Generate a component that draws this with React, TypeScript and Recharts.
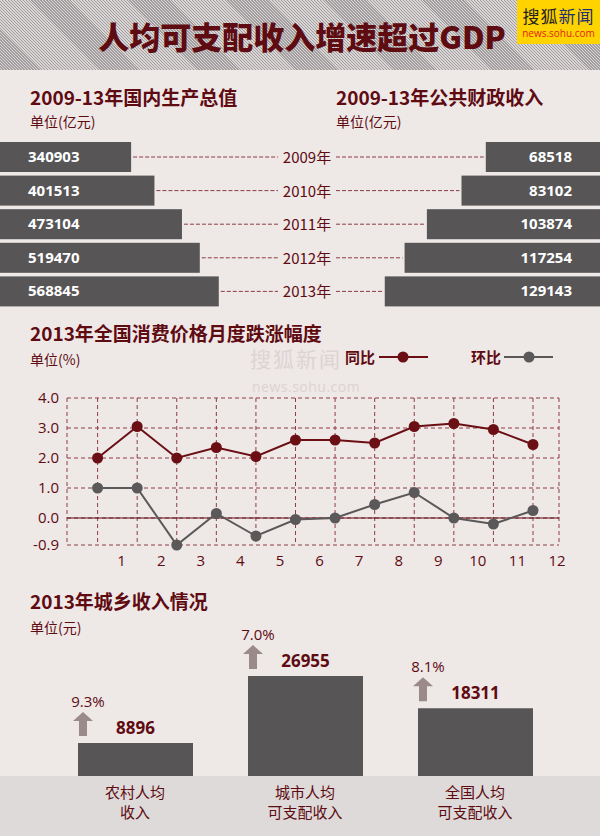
import React from 'react';
import { BarChart, Bar, XAxis, YAxis, LabelList, LineChart, Line, CartesianGrid, ReferenceLine } from 'recharts';

const years = ['2009年', '2010年', '2011年', '2012年', '2013年'];
const gdpValues = [340903, 401513, 473104, 519470, 568845];
const fiscalValues = [68518, 83102, 103874, 117254, 129143];

const months = [1, 2, 3, 4, 5, 6, 7, 8, 9, 10, 11, 12];
const yoyValues = [2.0, 3.05, 2.0, 2.35, 2.05, 2.6, 2.6, 2.5, 3.05, 3.15, 2.95, 2.45];
const momValues = [1.0, 1.0, -0.9, 0.15, -0.6, -0.05, 0.0, 0.45, 0.85, 0.0, -0.2, 0.25];
const cpiTicks = [-0.9, 0, 1, 2, 3, 4];

const incomeLine1 = ['农村人均', '城市人均', '全国人均'];
const incomeLine2 = ['收入', '可支配收入', '可支配收入'];
const incomeValues = [8896, 26955, 18311];
const incomeGrowth = ['9.3%', '7.0%', '8.1%'];

const MAROON = '#5e0b12';
const DASH = '#8e3d45';
const BAR = '#575556';
const BG = '#eee8e7';
const CJK = '"Noto Sans CJK SC", "Noto Sans", sans-serif';
const NUM = '"Open Sans", "Noto Sans", sans-serif';

const topData = years.map((year, i) => ({ year, gdp: gdpValues[i], fiscal: fiscalValues[i] }));
const cpiData = months.map((m, i) => ({ m, yoy: yoyValues[i], mom: momValues[i] }));
const incomeData = incomeValues.map((v, i) => ({ name: incomeLine1[i], sub: incomeLine2[i], value: v, growth: incomeGrowth[i] }));

const GdpBar = (p: any) => {
  const cy = p.y + p.height / 2;
  return (
    <g>
      <rect x={p.x} y={p.y} width={p.width} height={p.height} fill={BAR} />
      <line x1={p.x + p.width + 2} x2={278} y1={cy} y2={cy} stroke={DASH} strokeDasharray="4 2" />
    </g>
  );
};

const FiscalBar = (p: any) => {
  const left = Math.min(p.x, p.x + p.width);
  const w = Math.abs(p.width);
  const cy = p.y + p.height / 2;
  return (
    <g>
      <rect x={left} y={p.y} width={w} height={p.height} fill={BAR} />
      <line x1={336} x2={left - 2} y1={cy} y2={cy} stroke={DASH} strokeDasharray="4 2" />
    </g>
  );
};

const YearLabel = (p: any) => (
  <text x={307} y={p.y + p.height / 2 + 6} textAnchor="middle" fill={MAROON} fontSize={15} fontFamily={CJK}>
    {p.value}
  </text>
);

const GdpValue = (p: any) => (
  <text x={Math.min(p.x, p.x + p.width) + 28} y={p.y + p.height / 2 + 5} fill="#fff" fontSize={15} fontWeight={700} fontFamily={NUM}>
    {p.value}
  </text>
);

const FiscalValue = (p: any) => (
  <text x={Math.max(p.x, p.x + p.width) - 28} y={p.y + p.height / 2 + 5} textAnchor="end" fill="#fff" fontSize={15} fontWeight={700} fontFamily={NUM}>
    {p.value}
  </text>
);

const MonthTick = (p: any) => (
  <text x={p.x + 24} y={p.y + 13} textAnchor="middle" fill={MAROON} fontSize={15} fontFamily={NUM}>
    {p.payload.value}
  </text>
);

const IncomeTick = (p: any) => {
  const d = incomeData[p.index];
  return (
    <text x={p.x} y={p.y + 14} textAnchor="middle" fill={MAROON} fontSize={15} fontFamily={CJK}>
      <tspan x={p.x}>{d ? d.name : p.payload.value}</tspan>
      <tspan x={p.x} dy={20}>{d ? d.sub : ''}</tspan>
    </text>
  );
};

const IncomeLabel = (p: any) => {
  const d = incomeData[p.index];
  const top = p.y;
  const ax = p.x + 5;
  const arrow = `M${ax - 10},${top - 22} L${ax},${top - 31} L${ax + 10},${top - 22} L${ax + 4},${top - 22} L${ax + 4},${top - 7} L${ax - 4},${top - 7} L${ax - 4},${top - 22} Z`;
  return (
    <g>
      <path d={arrow} fill="#9a8a8a" />
      <text x={p.x + 10} y={top - 36} textAnchor="middle" fill={MAROON} fontSize={15} fontFamily={NUM}>
        {d.growth}
      </text>
      <text x={p.x + p.width / 2} y={top - 9} textAnchor="middle" fill={MAROON} fontSize={17} fontWeight={700} fontFamily={NUM}>
        {p.value}
      </text>
    </g>
  );
};

const Title = ({ x, y, text }: { x: number; y: number; text: string }) => (
  <div style={{ position: 'absolute', left: x, top: y, fontSize: 19, fontWeight: 700, color: MAROON, fontFamily: CJK, whiteSpace: 'nowrap', lineHeight: 1 }}>
    {text}
  </div>
);

const Unit = ({ x, y, text }: { x: number; y: number; text: string }) => (
  <div style={{ position: 'absolute', left: x, top: y, fontSize: 14, color: MAROON, fontFamily: CJK, whiteSpace: 'nowrap', lineHeight: 1 }}>
    {text}
  </div>
);

export default function App() {
  return (
    <div style={{ position: 'relative', width: 600, height: 836, background: BG, overflow: 'hidden', fontFamily: CJK }}>
      <style>{'body{margin:0}'}</style>

      {/* header */}
      <div style={{ position: 'absolute', left: 0, top: 0, width: 600, height: 70, background: 'repeating-linear-gradient(45deg, #a29d9e 0px, #a29d9e 1px, #dad5d5 1px, #dad5d5 2.1px)' }} />
      <div style={{ position: 'absolute', left: 0, top: 20, width: 604, textAlign: 'center', fontSize: 31, fontWeight: 900, color: MAROON, fontFamily: CJK, lineHeight: 1 }}>
        人均可支配收入增速超过GDP
      </div>
      <div style={{ position: 'absolute', left: 517, top: 0, width: 83, height: 44, background: '#ffd300', textAlign: 'center' }}>
        <div style={{ fontSize: 17, lineHeight: 1, marginTop: 7, letterSpacing: 1 }}>
          <span style={{ color: '#222' }}>搜狐</span>
          <span style={{ color: '#23306e' }}>新闻</span>
        </div>
        <div style={{ fontSize: 10, color: '#e2231a', fontFamily: NUM, marginTop: 4, lineHeight: 1 }}>news.sohu.com</div>
      </div>

      {/* section 1 */}
      <Title x={30} y={87} text="2009-13年国内生产总值" />
      <Unit x={30} y={114} text="单位(亿元)" />
      <Title x={336} y={87} text="2009-13年公共财政收入" />
      <Unit x={336} y={114} text="单位(亿元)" />

      <div style={{ position: 'absolute', left: 0, top: 140 }}>
        <BarChart width={600} height={168} data={topData} layout="vertical" margin={{ top: 0, right: 0, bottom: 0, left: 0 }}>
          <XAxis type="number" hide domain={[0, 1560000]} />
          <YAxis type="category" dataKey="year" hide />
          <Bar dataKey="gdp" barSize={30} fill={BAR} shape={GdpBar} isAnimationActive={false}>
            <LabelList dataKey="gdp" content={GdpValue} />
            <LabelList dataKey="year" content={YearLabel} />
          </Bar>
        </BarChart>
      </div>
      <div style={{ position: 'absolute', left: 0, top: 140 }}>
        <BarChart width={600} height={168} data={topData} layout="vertical" margin={{ top: 0, right: 0, bottom: 0, left: 0 }}>
          <XAxis type="number" hide reversed domain={[0, 360000]} />
          <YAxis type="category" dataKey="year" hide />
          <Bar dataKey="fiscal" barSize={30} fill={BAR} shape={FiscalBar} isAnimationActive={false}>
            <LabelList dataKey="fiscal" content={FiscalValue} />
          </Bar>
        </BarChart>
      </div>

      {/* section 2 */}
      <Title x={30} y={323} text="2013年全国消费价格月度跌涨幅度" />
      <Unit x={30} y={352} text="单位(%)" />
      <div style={{ position: 'absolute', left: 250, top: 348, fontSize: 21, letterSpacing: 2, color: '#dcd4d4', lineHeight: 1, fontFamily: CJK }}>搜狐新闻</div>
      <div style={{ position: 'absolute', left: 252, top: 380, fontSize: 14, letterSpacing: 0.5, color: '#dbd3d3', lineHeight: 1, fontFamily: NUM }}>news.sohu.com</div>
      <svg style={{ position: 'absolute', left: 0, top: 340 }} width={600} height={36}>
        <text x={345} y={23} fill={MAROON} fontSize={15} fontWeight={700} fontFamily={CJK}>同比</text>
        <line x1={379} x2={428} y1={17} y2={17} stroke="#6b0f14" strokeWidth={2} />
        <circle cx={403} cy={17} r={5.5} fill="#6b0f14" />
        <text x={471} y={23} fill={MAROON} fontSize={15} fontWeight={700} fontFamily={CJK}>环比</text>
        <line x1={504} x2={553} y1={17} y2={17} stroke="#5a5858" strokeWidth={2} />
        <circle cx={529} cy={17} r={5.5} fill="#5a5858" />
      </svg>

      <div style={{ position: 'absolute', left: 0, top: 380 }}>
        <LineChart width={600} height={200} data={cpiData} margin={{ top: 18, right: 41, bottom: 5, left: 7 }}>
          <CartesianGrid stroke={DASH} strokeDasharray="4 3" />
          <XAxis
            dataKey="m"
            type="number"
            domain={[0.227, 12.657]}
            ticks={months}
            axisLine={false}
            tickLine={false}
            height={30}
            tick={MonthTick}
          />
          <YAxis
            type="number"
            domain={[-0.9, 4]}
            ticks={cpiTicks}
            axisLine={false}
            tickLine={false}
            width={60}
            tickFormatter={(v: number) => v.toFixed(1)}
            tick={{ fill: MAROON, fontSize: 15, fontFamily: NUM }}
          />
          <ReferenceLine y={0} stroke={MAROON} strokeWidth={1.2} />
          <Line type="linear" dataKey="mom" stroke="#5a5858" strokeWidth={2} dot={{ r: 5.5, fill: '#5a5858', stroke: 'none' }} isAnimationActive={false} />
          <Line type="linear" dataKey="yoy" stroke="#6b0f14" strokeWidth={2} dot={{ r: 5.5, fill: '#6b0f14', stroke: 'none' }} isAnimationActive={false} />
        </LineChart>
      </div>

      {/* section 3 */}
      <Title x={30} y={591} text="2013年城乡收入情况" />
      <Unit x={30} y={620} text="单位(元)" />
      <div style={{ position: 'absolute', left: 0, top: 776, width: 600, height: 60, background: '#dddad9' }} />
      <div style={{ position: 'absolute', left: 0, top: 620 }}>
        <BarChart width={600} height={216} data={incomeData} margin={{ top: 20, right: 40, bottom: 5, left: 50 }}>
          <XAxis dataKey="name" axisLine={false} tickLine={false} height={55} interval={0} tick={IncomeTick} />
          <YAxis hide domain={[0, 36700]} />
          <Bar dataKey="value" barSize={115} fill={BAR} isAnimationActive={false}>
            <LabelList dataKey="value" content={IncomeLabel} />
          </Bar>
        </BarChart>
      </div>
    </div>
  );
}
